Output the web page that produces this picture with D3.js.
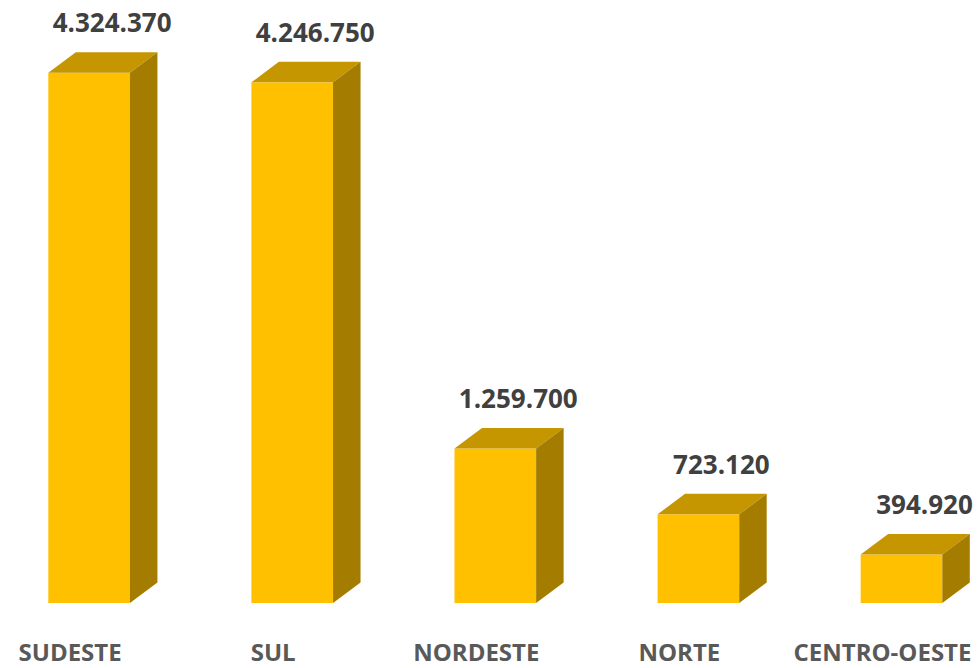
<!DOCTYPE html>
<html>
<head>
<meta charset="utf-8">
<script src="https://cdn.jsdelivr.net/npm/d3@7"></script>
<style>
    body { margin: 0; background: #fff; }
    #graph-container { width: 979px; height: 668px; }
    text { font-family: 'Open Sans', sans-serif; font-weight: bold; }
</style>
</head>
<body>
<div id="graph-container"></div>
<script>
// DATA
const regions = ['SUDESTE', 'SUL', 'NORDESTE', 'NORTE', 'CENTRO-OESTE']
const values = [4324370, 4246750, 1259700, 723120, 394920]
const valueLabels = ['4.324.370', '4.246.750', '1.259.700', '723.120', '394.920']

// SETTINGS
const settings = {
    width: 979,
    height: 668,
    baseline: 603,
    depth: { dx: 27.5, dy: -20.5 },
    colors: { front: '#FFC000', top: '#C59600', side: '#A47D00' }
}

const svg = d3.select('#graph-container').append('svg')
    .attr('width', settings.width)
    .attr('height', settings.height)

const x = d3.scaleBand()
    .domain(regions)
    .range([48.3, 942.3])
    .paddingInner(0.598)
    .paddingOuter(0)

const y = d3.scaleLinear()
    .domain([0, 5000000])
    .range([settings.baseline, settings.baseline - 613])

const data = regions.map((r, i) => ({ region: r, value: values[i], label: valueLabels[i] }))
const dx = settings.depth.dx
const dy = settings.depth.dy
const w = x.bandwidth()

const bars = svg.selectAll('.bar')
    .data(data)
    .enter().append('g')
    .attr('class', 'bar')

// front face
bars.append('rect')
    .attr('x', d => x(d.region))
    .attr('y', d => y(d.value))
    .attr('width', w)
    .attr('height', d => y(0) - y(d.value))
    .style('fill', settings.colors.front)

// top face
bars.append('path')
    .attr('d', d => {
        const x0 = x(d.region), y0 = y(d.value)
        return `M${x0},${y0}L${x0 + dx},${y0 + dy}L${x0 + w + dx},${y0 + dy}L${x0 + w},${y0}Z`
    })
    .style('fill', settings.colors.top)

// side face
bars.append('path')
    .attr('d', d => {
        const x1 = x(d.region) + w, y0 = y(d.value), yb = y(0)
        return `M${x1},${y0}L${x1 + dx},${y0 + dy}L${x1 + dx},${yb + dy}L${x1},${yb}Z`
    })
    .style('fill', settings.colors.side)

// value labels
bars.append('text')
    .attr('x', d => x(d.region) + w / 2 + 23)
    .attr('y', d => y(d.value) + dy - 20)
    .attr('text-anchor', 'middle')
    .style('font-size', '26px')
    .style('fill', '#404040')
    .text(d => d.label)

// category axis (no line, no ticks)
const xAxis = d3.axisBottom(x).tickSize(0).tickPadding(0)
const axisG = svg.append('g')
    .attr('class', 'axis x')
    .attr('transform', `translate(-19, 661)`)
    .call(xAxis)
axisG.select('.domain').remove()
axisG.selectAll('text')
    .attr('dy', '0')
    .style('font-family', "'Open Sans', sans-serif")
    .style('font-weight', 'bold')
    .style('font-size', '24px')
    .style('fill', '#595959')
</script>
</body>
</html>
